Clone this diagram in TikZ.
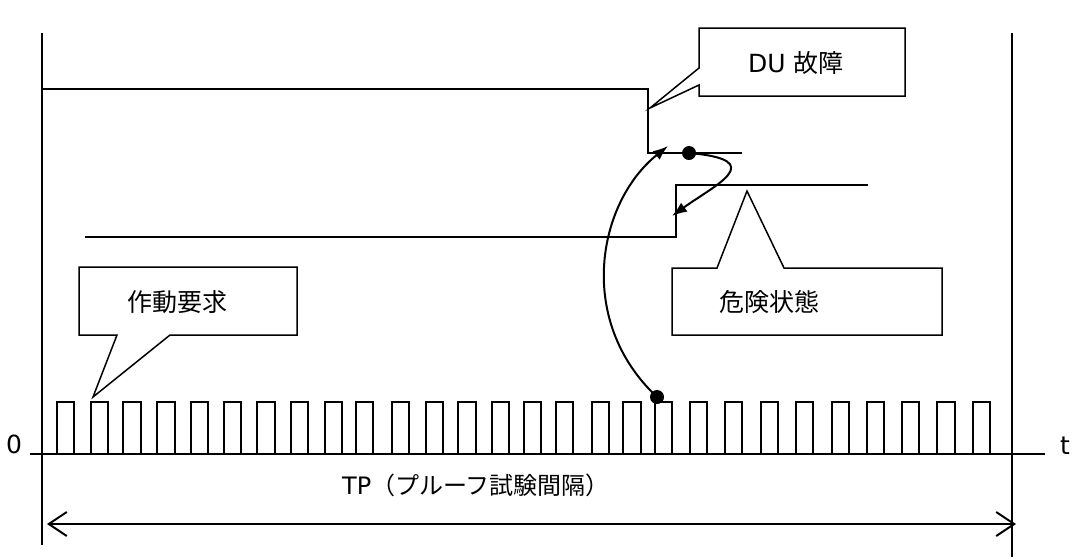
\documentclass[tikz,border=0pt]{standalone}
\usepackage{fontspec}
\setmainfont{DejaVu Sans}
\newfontfamily\jp{Noto Sans CJK JP}
\usetikzlibrary{arrows.meta}
\begin{document}
\begin{tikzpicture}[x=1pt,y=-1pt,
  sig/.style={line width=2pt, line join=miter},
  frame/.style={line width=1.5pt},
  axisline/.style={line width=1.4pt},
  callout/.style={line width=1.5pt, fill=white, line join=miter},
  lbl/.style={font=\fontsize{25}{30}\selectfont, inner sep=0pt, anchor=west},
  dot/.style={circle, fill=black, inner sep=0pt, minimum size=14pt},
  curvearrow/.style={line width=2pt, -{Latex[length=15pt,width=11pt]}},
  tparrow/.style={line width=2pt, {Straight Barb[length=18pt,width=24pt]}-{Straight Barb[length=18pt,width=24pt]}},
]
\useasboundingbox (0,0) rectangle (1073,558);

% vertical limits and time axis
\draw[frame] (42,33) -- (42,545);
\draw[frame] (1012,33) -- (1012,557);
\draw[axisline] (30,454) -- (1045,454);

% pulses (demands)
\foreach \x in {56.7,90.7,123.3,157.3,190.7,224,257.3,290.7,325,356,391.7,426,458.3,491.7,524,556,591.7,623.3,655,690,725,760.7,796,831.7,866.7,901.7,937.3,972.7}
  \draw[sig, line width=1.8pt] (\x,454) -- (\x,402) -- (\x+17.3,402) -- (\x+17.3,454);

% signals
\draw[sig] (42,89) -- (648,89) -- (648,153) -- (742,153);
\draw[sig] (85,237) -- (676,237) -- (676,185) -- (868,185);

% callouts
\draw[callout] (699,28) -- (905,28) -- (905,96) -- (699,96) -- (699,85) -- (650,108) -- (699,68) -- cycle;
\node[lbl] (du) at (748,63) {DU {\jp 故障}};

\draw[callout] (79,267) -- (297,267) -- (297,335) -- (170,335) -- (93,397) -- (117,335) -- (79,335) -- cycle;
\node[lbl] (demand) at (127,302) {\jp 作動要求};

\draw[callout] (672,268) -- (717,268) -- (747,191) -- (784,268) -- (942,268) -- (942,335) -- (672,335) -- cycle;
\node[lbl] (danger) at (719,302) {\jp 危険状態};

% dots and curved arrows
\node[dot] (d1) at (689,153) {};
\node[dot] (d2) at (657,397) {};
\coordinate (t1) at (668,146);
\coordinate (t2) at (672,216);
\draw[curvearrow] (d2.center) .. controls (575,320) and (598,202) .. (t1);
\draw[curvearrow] (d1.center) .. controls (770,160) and (715,185) .. (t2);

% axis labels
\node[lbl] (zero) at (6,444) {0};
\node[lbl] (tlab) at (1060,446) {t};
\node[font=\fontsize{24}{29}\selectfont, inner sep=0pt] (tp) at (476,485) {TP{\jp （プルーフ試験間隔）}};

% TP interval
\coordinate (tpl) at (47,524);
\coordinate (tpr) at (1016,524);
\draw[tparrow] (tpl) -- (tpr);
\end{tikzpicture}
\end{document}
